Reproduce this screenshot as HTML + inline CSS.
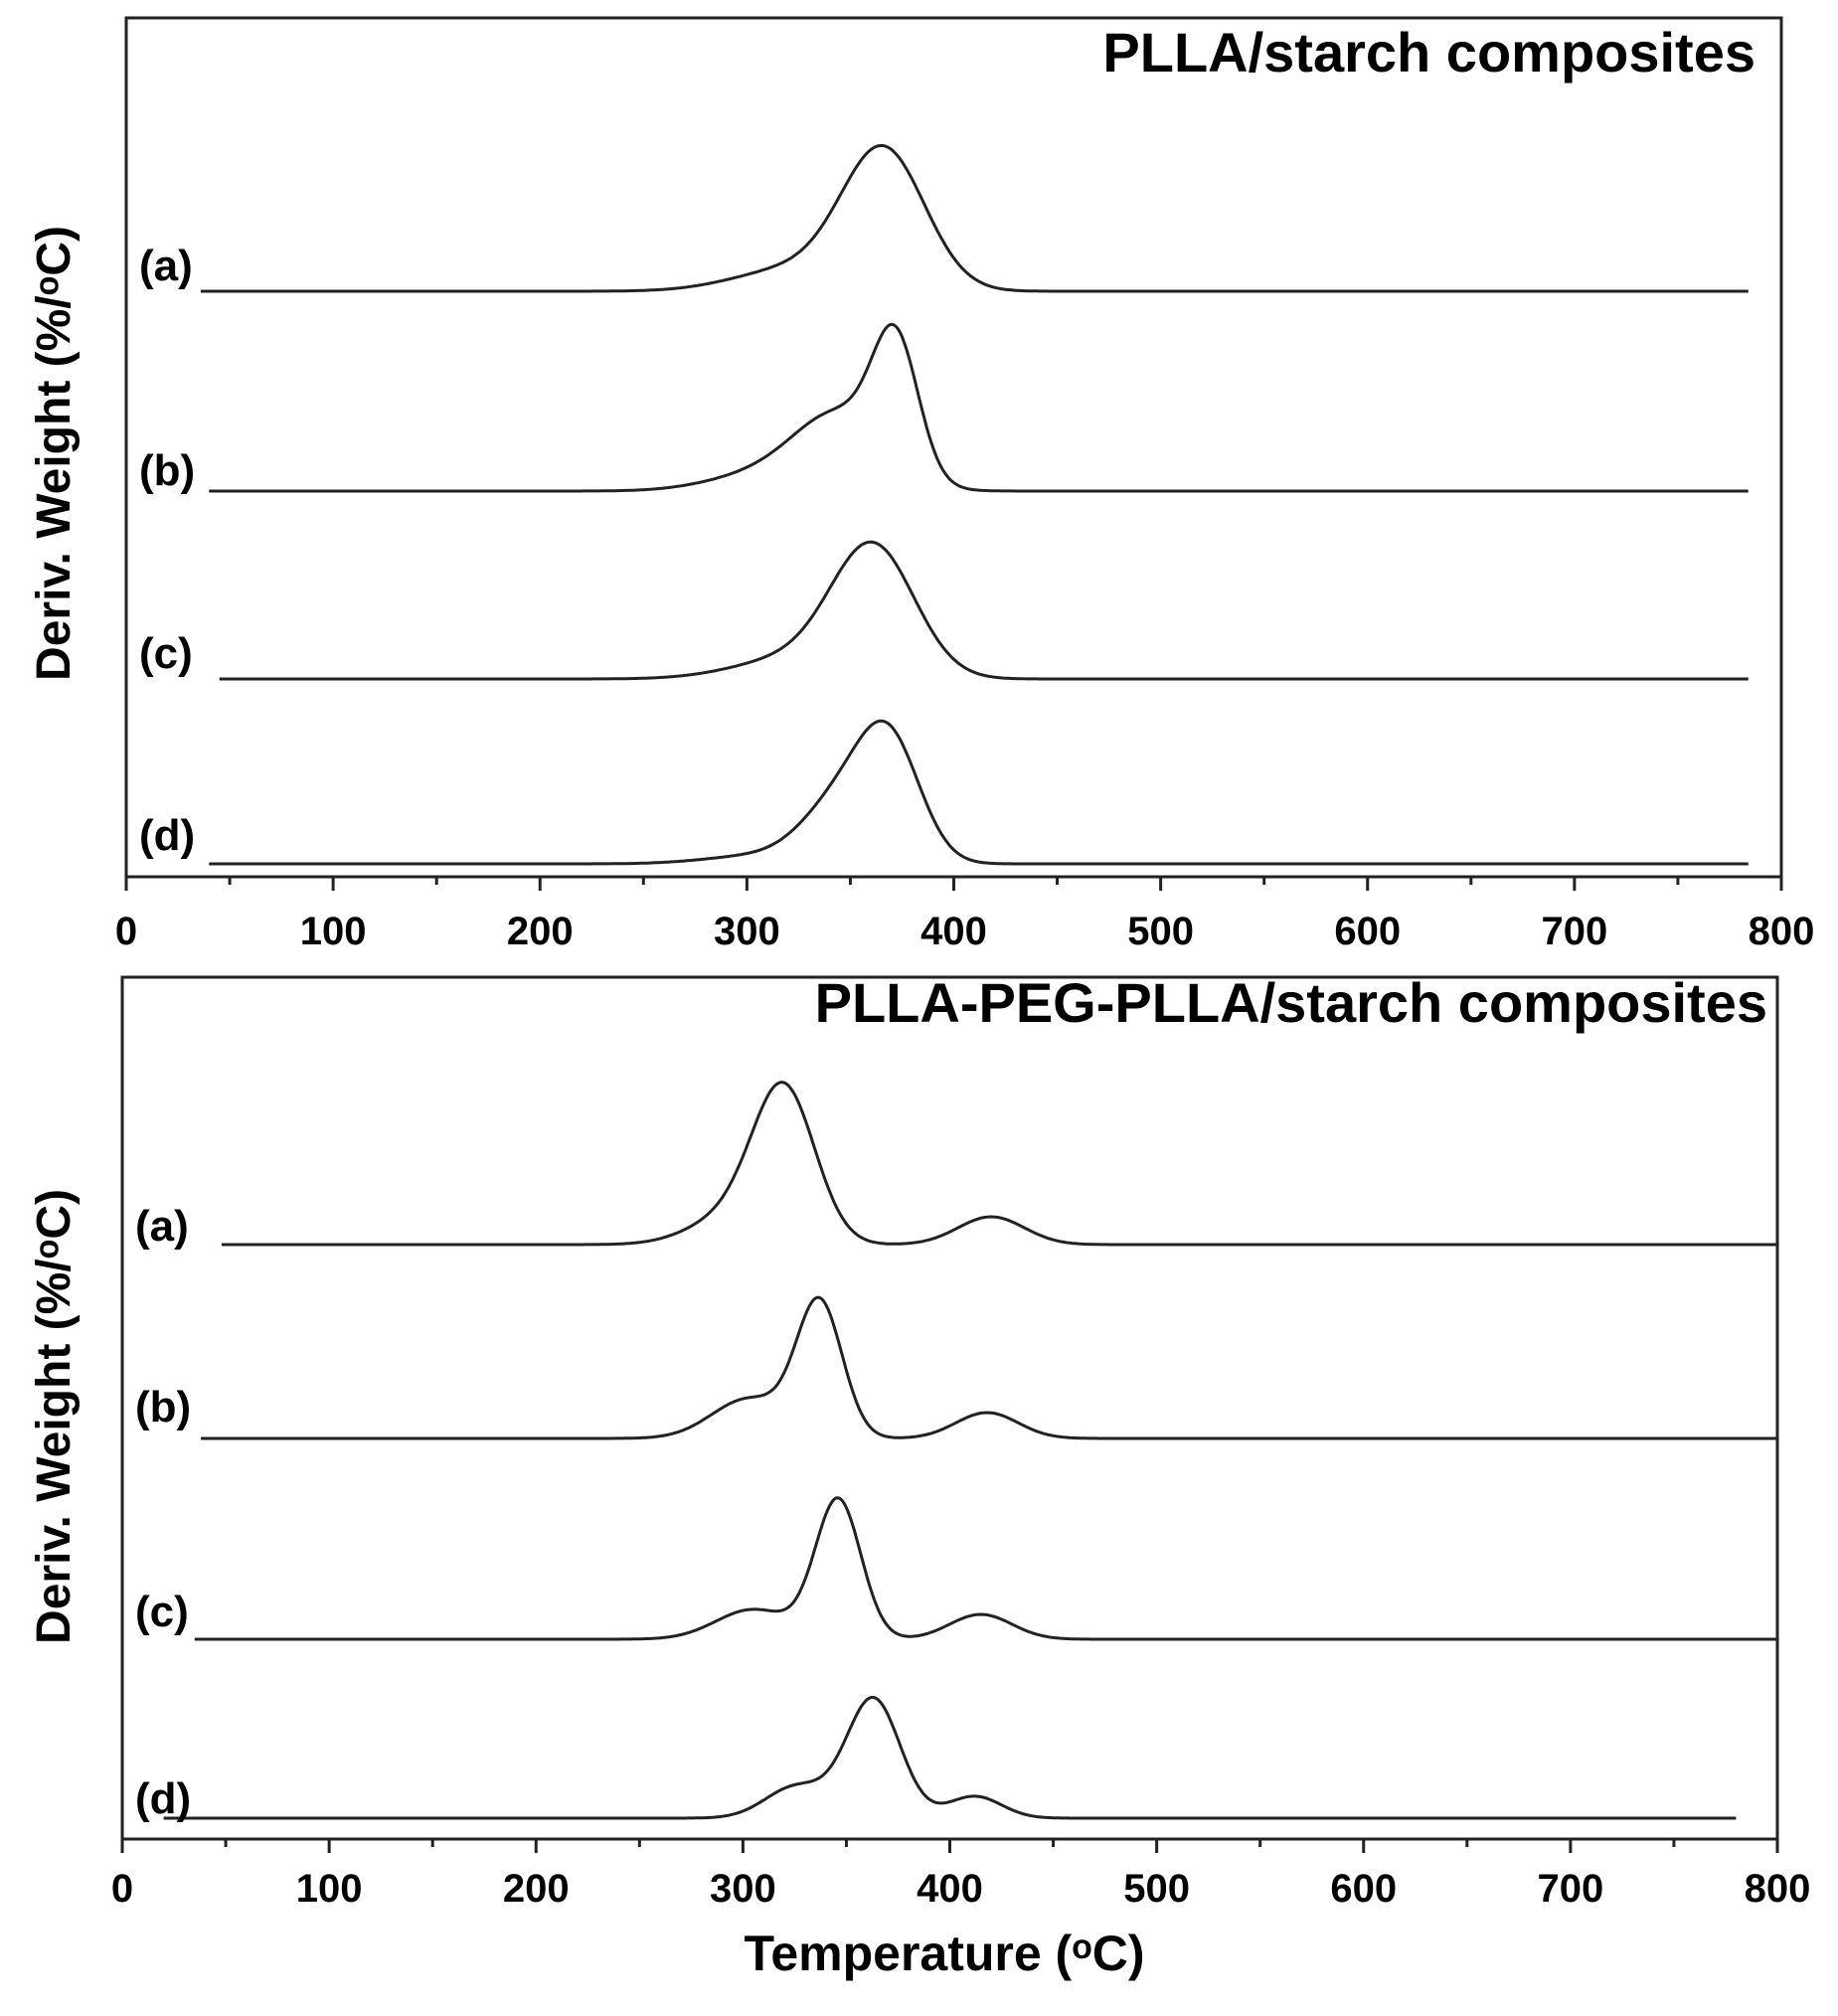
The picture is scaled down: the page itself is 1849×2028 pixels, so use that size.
<!DOCTYPE html>
<html><head><meta charset="utf-8"><style>
body{margin:0;background:#fff;}
svg text{font-family:"Liberation Sans",Arial,sans-serif;font-weight:bold;fill:#000;}
</style></head><body>
<svg id="s" width="1849" height="2023" viewBox="0 0 1849 2023" xmlns="http://www.w3.org/2000/svg">
<rect width="1849" height="2023" fill="#fff"/>
<g id="g"></g>
<text x="1766" y="72" font-size="56" text-anchor="end">PLLA/starch composites</text>
<text x="1778" y="1028" font-size="56" text-anchor="end">PLLA-PEG-PLLA/starch composites</text>
<text transform="translate(70,456) rotate(-90)" font-size="48" text-anchor="middle">Deriv. Weight (%/ᵒC)</text>
<text transform="translate(70,1425) rotate(-90)" font-size="48" text-anchor="middle">Deriv. Weight (%/ᵒC)</text>
<text x="950" y="1982" font-size="50" text-anchor="middle">Temperature (ᵒC)</text>
</svg>
<script>
const g=document.getElementById('g');let h='';
function panel(x0,x1,y0,y1,ly){
 h+=`<rect x="${x0}" y="${y0}" width="${x1-x0}" height="${y1-y0}" fill="none" stroke="#222" stroke-width="3"/>`;
 const sc=(x1-x0)/800;
 for(let t=0;t<=800;t+=50){const x=x0+t*sc;h+=`<line x1="${x}" y1="${y1}" x2="${x}" y2="${y1+(t%100?8:14)}" stroke="#222" stroke-width="3"/>`;
  if(t%100==0)h+=`<text x="${x}" y="${ly}" font-size="40" text-anchor="middle">${t}</text>`;}
}
function curve(x0,sc,base,ts,te,gs,lab,lx,lyy){
 let d='';for(let t=ts;t<=te;t+=1){let y=base;for(const [c,s,a] of gs)y-=a*Math.exp(-((t-c)**2)/(2*s*s));d+=(d?'L':'M')+(x0+t*sc).toFixed(1)+','+y.toFixed(1);}
 h+=`<path d="${d}" fill="none" stroke="#222" stroke-width="3"/>`;
 h+=`<text x="${lx}" y="${lyy}" font-size="44">${lab}</text>`;
}
panel(127,1792,18,882,950);
let sc=(1792-127)/800,X=127;
curve(X,sc,293,36,784,[[366,20,140],[322,28,22]],'(a)',140,282);
curve(X,sc,494,40,784,[[372,11,130],[345,22,75],[305,25,15]],'(b)',140,488);
curve(X,sc,683,45,784,[[361,20,130],[322,28,20]],'(c)',140,672);
curve(X,sc,869,40,784,[[369,15,115],[345,18,60],[305,25,8]],'(d)',140,855);
panel(123,1788,983,1850,1913);
sc=(1788-123)/800;X=123;
curve(X,sc,1252,48,800,[[320,15,150],[420,16,28],[295,20,28]],'(a)',136,1248);
curve(X,sc,1447,38,800,[[337,11,135],[303,18,40],[418,15,26]],'(b)',136,1430);
curve(X,sc,1649,35,800,[[346,11,140],[305,18,30],[415,15,25]],'(c)',136,1636);
curve(X,sc,1829,20,780,[[363,13,120],[326,15,32],[412,13,22]],'(d)',136,1824);
g.innerHTML=h;
</script>
</body></html>
